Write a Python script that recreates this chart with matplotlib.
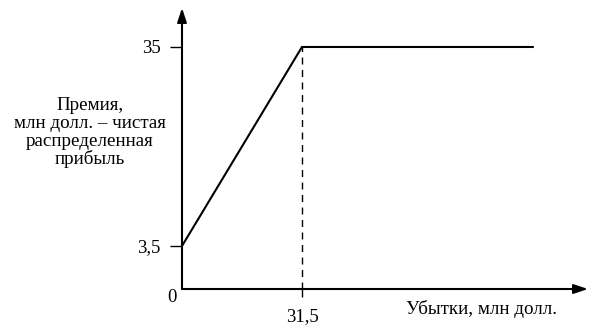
import matplotlib
matplotlib.use('Agg')
import matplotlib.pyplot as plt

plt.rcParams['font.family'] = ['Liberation Serif', 'DejaVu Serif']

# data
loss = [0, 31.5, 92.1]
premium = [3.5, 35, 35]
yticks = [3.5, 35]
ytick_labels = ['3,5', '35']
xticks = [31.5]
xtick_labels = ['31,5']

fig = plt.figure(figsize=(6, 3.36), dpi=100)
ax = fig.add_axes([182/600, 47/336, 406/600, 281/336])
ax.set_xlim(0, 106.6)
ax.set_ylim(-3.31, 41.17)

for s in ax.spines.values():
    s.set_visible(False)

# axes as arrows
arrow = dict(arrowstyle='-|>,head_length=0.6,head_width=0.2', lw=1.5, color='black',
             mutation_scale=14, shrinkA=0, shrinkB=0)
ax.annotate('', xy=(0, 1), xytext=(0, 0), xycoords='axes fraction', arrowprops=arrow)
ax.annotate('', xy=(1, 0), xytext=(0, 0), xycoords='axes fraction', arrowprops=arrow)

ax.plot(loss, premium, color='black', lw=1.5, solid_joinstyle='miter')
ax.vlines(31.5, -3.31, 35, colors='black', linestyles=(0, (5, 4)), lw=1.0)

ax.set_yticks(yticks)
ax.set_yticklabels(ytick_labels)
ax.set_xticks(xticks)
ax.set_xticklabels(xtick_labels)
ax.tick_params(axis='y', direction='out', length=8.6, width=1, pad=7, labelsize=13.5)
ax.tick_params(axis='x', direction='out', length=5.8, width=1, pad=8, labelsize=13.5)

ax.text(-0.025, -0.03, '0', transform=ax.transAxes, ha='center', va='center', fontsize=13.5)

fig.text(90/600, 1 - 133/336, 'Премия,\nмлн долл. – чистая\nраспределенная\nприбыль',
         ha='center', va='center', multialignment='center', fontsize=13.7, linespacing=1.05)
fig.text(481/600, 1 - 309/336, 'Убытки, млн долл.', ha='center', va='center', fontsize=13.7)

fig.savefig('out.png', dpi=100)
